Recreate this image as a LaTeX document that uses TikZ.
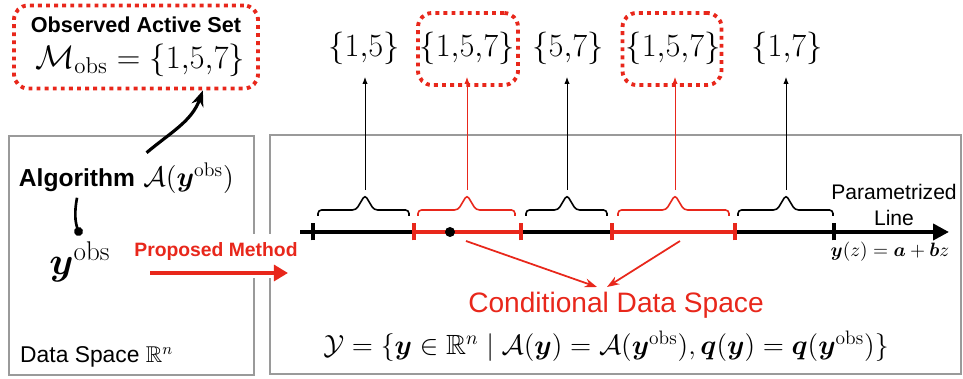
\RequirePackage{fix-cm}
\documentclass[tikz,border=0pt]{standalone}
\usepackage{fontspec}
\setsansfont{Liberation Sans}
\usepackage{amsmath,amssymb,bm}
\usetikzlibrary{arrows.meta, positioning, calc}
\definecolor{hotred}{HTML}{E8271B}
\definecolor{frame}{HTML}{9A9A9A}

\begin{document}
\begin{tikzpicture}[x=0.2mm, y=0.2mm,
    panel/.style={draw=frame, line width=1.4pt},
    dotbox/.style={draw=hotred, line width=2.2pt, dash pattern=on 2.2pt off 2.4pt,
                   rounded corners=8pt},
    setlbl/.style={font=\fontsize{18.5}{20}\selectfont, inner xsep=2pt, inner ysep=7pt},
    axis/.style={line width=2.2pt, -{Triangle[length=9pt,width=9pt]}},
    seg/.style={line width=2.2pt, hotred},
    tick/.style={line width=2pt},
    brc/.style={line width=0.9pt, rounded corners=2pt},
    uparr/.style={-{Latex[length=4pt,width=3pt]}, line width=0.5pt},
    redarr/.style={-{Stealth[length=7pt,width=5pt]}, line width=1pt, hotred},
    pmarr/.style={-{Triangle[length=8pt,width=9pt]}, line width=2pt, hotred},
    curvarr/.style={-{Stealth[length=9pt,width=7pt]}, line width=1.8pt},
    ydot/.style={circle, fill=black, inner sep=0pt, minimum size=2mm}
]
\useasboundingbox (0,0) rectangle (963,379);

% two panels
\draw[panel] (9,4) rectangle (254,243);
\draw[panel] (270,5) rectangle (961,244);

% observed active set
\node[dotbox, minimum width=48.8mm, minimum height=16.6mm] (obsbox) at (136,332) {};
\node[font=\sffamily\bfseries\fontsize{12.3}{14}\selectfont] (obstitle) at (136,354) {Observed Active Set};
\node[font=\fontsize{18.6}{21}\selectfont] (obsset) at (140,319) {$\mathcal{M}_{\mathrm{obs}} = \{1{,}5{,}7\}$};

% data space
\node[font=\sffamily\bfseries\fontsize{14}{16}\selectfont] (algword) at (77,199) {Algorithm};
\node[anchor=base west, font=\fontsize{16}{18}\selectfont, inner xsep=1pt] (algfun) at (algword.base east) {$\mathcal{A}(\bm{y}^{\mathrm{obs}})$};
\node[font=\fontsize{22}{24}\selectfont] (yobs) at (80,117) {$\bm{y}^{\mathrm{obs}}$};
\node[anchor=west, font=\sffamily\fontsize{13}{15}\selectfont] (dspace) at (14,22) {Data Space $\mathbb{R}^n$};

\draw[line width=1.5pt, -{Circle[length=5pt]}] (algword.south) to[bend right=15] (yobs.north);
\draw[curvarr] ([xshift=3pt,yshift=2pt]algfun.north west) to[out=40, in=250] (obsbox.-33);

% proposed method
\fill[white] (140,101) rectangle (285,145);
\node[font=\sffamily\bfseries\fontsize{11}{13}\selectfont, text=hotred] (pmlbl) at (216,127) {Proposed Method};
\coordinate (pm0) at (150,106);
\coordinate (pm1) at (288,106);
\draw[pmarr] (pm0) -- (pm1);

% parametrized line
\coordinate (ax0) at (300,147);
\coordinate (ax1) at (949,147);
\foreach \n/\x in {1/313,2/414,3/521,4/612,5/735,6/834}
  \coordinate (t\n) at (\x,147);
\draw[axis] (ax0) -- (ax1);
\draw[seg] (t2) -- (t3);
\draw[seg] (t4) -- (t5);
\foreach \n in {1,6}
  \draw[tick] (t\n) ++(0,-8.5) -- ++(0,17);
\foreach \n in {2,3,4,5}
  \draw[tick, hotred] (t\n) ++(0,-8.5) -- ++(0,17);
\node[ydot] (yz) at (450,147) {};

\node[font=\sffamily\fontsize{12}{14.5}\selectfont, align=center] (plabel) at (894,174) {Parametrized\\Line};
\node[font=\fontsize{11}{13}\selectfont] (yzlbl) at (890,127) {$\bm{y}(z) = \bm{a} + \bm{b}z$};

% braces over the intervals
\foreach \a/\b/\m/\c in {318/409/365/black, 418/515/467/hotred, 526/607/567/black,
                         618/729/675/hotred, 738/833/786/black}
  \draw[brc, \c] (\a,163) -- (\a,169) -- ({\m-9},169) -- (\m,184) -- ({\m+9},169) -- (\b,169) -- (\b,163);

% active sets
\node[setlbl] (s1) at (364,331) {$\{1{,}5\}$};
\node[setlbl] (s2) at (467,331) {$\{1{,}5{,}7\}$};
\node[setlbl] (s3) at (568,331) {$\{5{,}7\}$};
\node[setlbl] (s4) at (673,331) {$\{1{,}5{,}7\}$};
\node[setlbl] (s5) at (787,331) {$\{1{,}7\}$};
\node[dotbox, minimum width=20mm, minimum height=14.4mm] (b2) at (468,330) {};
\node[dotbox, minimum width=19.8mm, minimum height=14.4mm] (b4) at (672,330) {};

\coordinate (p1) at (365,189);
\coordinate (p2) at (467,189);
\coordinate (p3) at (567,189);
\coordinate (p4) at (675,189);
\coordinate (p5) at (786,189);
\draw[uparr] (p1) -- (p1 |- s1.south);
\draw[uparr, hotred] (p2) -- (p2 |- s2.south);
\draw[uparr] (p3) -- (p3 |- s3.south);
\draw[uparr, hotred] (p4) -- (p4 |- s4.south);
\draw[uparr] (p5) -- (p5 |- s5.south);

% conditional data space
\node[font=\sffamily\fontsize{16}{18}\selectfont, text=hotred] (cds) at (616,74) {Conditional Data Space};
\node[font=\fontsize{15.8}{18}\selectfont] (cdsdef) at (606,33) {$\mathcal{Y} = \{\bm{y}\in\mathbb{R}^n \mid \mathcal{A}(\bm{y}) = \mathcal{A}(\bm{y}^{\mathrm{obs}}), \bm{q}(\bm{y}) = \bm{q}(\bm{y}^{\mathrm{obs}})\}$};
\coordinate (r1) at (466,138);
\coordinate (r2) at (680,138);
\coordinate (c1) at (597,92);
\coordinate (c2) at (607,92);
\draw[redarr] (r1) -- (c1);
\draw[redarr] (r2) -- (c2);
\end{tikzpicture}
\end{document}
